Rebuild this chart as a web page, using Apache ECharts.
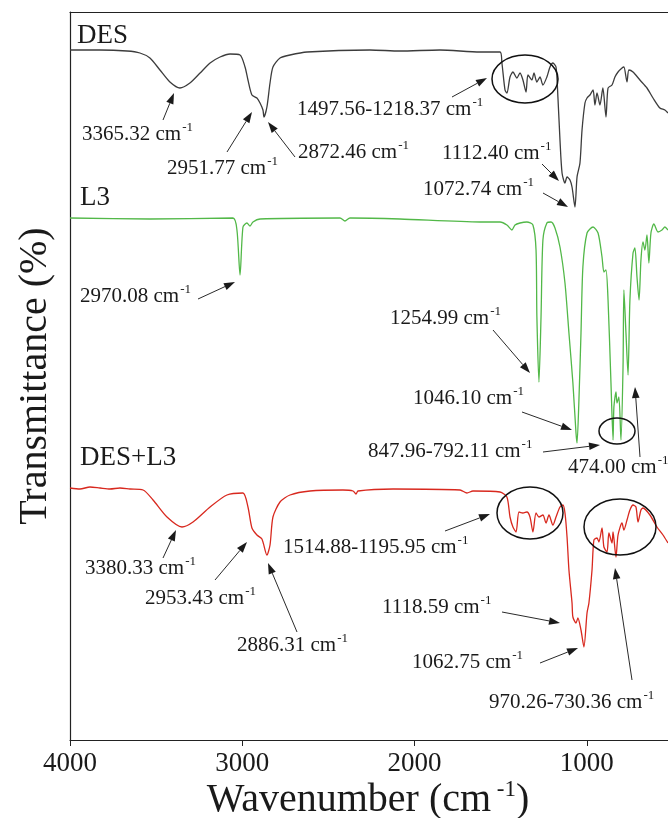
<!DOCTYPE html>
<html><head><meta charset="utf-8">
<script src="https://cdn.jsdelivr.net/npm/echarts@6/dist/echarts.min.js"></script>
<style>html,body{margin:0;padding:0;background:#fff}#c{width:668px;height:818px}</style>
</head><body><div id="c"></div>
<script>
// ---- data (wavenumber cm-1, transmittance in arbitrary offset units) ----
const xTicks = [4000, 3000, 2000, 1000];

const desWn = [4000,3826,3669,3594,3536,3478,3420,3362,3304,3245,3187,3129,3071,3013,2984,2967,2944,2915,2897,2880,2874,2857,2839,2822,2781,2723,2624,2259,2085,1853,1620,1504,1493,1475,1464,1446,1429,1406,1388,1371,1353,1342,1319,1307,1290,1272,1255,1232,1214,1197,1179,1168,1156,1144,1127,1115,1098,1086,1069,1057,1040,1028,1011,999,982,964,953,941,924,907,889,877,854,837,819,796,785,767,756,732,692,651,616,576,547,529];
const desT  = [690,690,689,687,682,670,658,652,657,667,677,683,686,685,673,660,645,642,637,630,623,633,657,673,682,685,688,690,689,690,688,688,677,650,647,663,668,662,667,660,648,665,660,667,658,663,655,663,673,677,673,643,600,567,557,563,560,553,533,563,577,610,637,642,645,650,635,647,635,652,623,652,655,663,668,672,673,658,670,668,660,652,642,632,630,627];

const l3Wn = [4000,3536,3054,3031,3013,2996,2973,2955,2938,2897,2433,2404,2375,2085,1620,1504,1464,1435,1417,1388,1348,1313,1295,1290,1278,1266,1255,1232,1208,1185,1156,1127,1104,1081,1063,1057,1046,1034,1023,999,964,935,912,901,889,877,860,848,843,831,825,814,802,790,785,773,761,750,732,721,709,697,686,674,663,651,640,628,611,587,564,547,529];
const l3T  = [522,521,522,510,465,513,517,514,518,521,522,519,522,521,518,518,515,510,515,517,518,515,490,423,358,423,500,517,518,512,493,457,407,357,307,297,340,407,473,507,513,507,483,468,470,440,357,300,333,348,337,343,300,373,450,407,365,440,487,492,463,440,480,498,490,505,477,507,516,508,510,513,510];

const mixWn = [4000,3942,3884,3826,3768,3710,3652,3576,3518,3437,3350,3286,3187,3089,2996,2967,2944,2915,2886,2857,2839,2822,2781,2723,2607,2416,2357,2340,2328,2125,1736,1696,1661,1504,1464,1446,1429,1411,1394,1371,1348,1330,1313,1295,1278,1255,1237,1220,1197,1179,1156,1139,1127,1115,1104,1086,1081,1063,1052,1034,1017,999,988,970,959,941,930,912,901,883,872,854,848,831,819,796,785,767,750,732,715,703,686,674,634,593,558,529];
const mixT  = [252,251,253,252,251,252,251,250,240,223,213,218,233,245,247,233,212,205,201,185,195,223,238,245,249,250,249,246,249,251,250,247,249,248,243,223,213,208,228,227,228,223,208,227,223,225,217,225,215,223,233,235,227,203,170,137,123,117,122,110,93,127,137,170,200,202,198,212,193,188,207,197,208,183,205,217,210,220,230,235,233,218,230,232,225,213,205,197];

const seriesNames = ['DES', 'L3', 'DES+L3'];

// ---- build ----
const zip = (a, b) => a.map((v, i) => [v, b[i]]);
const FONT = "'Liberation Serif', 'Times New Roman', serif";
const INK = '#1a1a1a';

const chart = echarts.init(document.getElementById('c'), null, {renderer: 'canvas'});

function arrow(x1, y1, x2, y2) {
  const a = Math.atan2(y2 - y1, x2 - x1), L = 11, W = 3.8;
  const bx = x2 - L * Math.cos(a), by = y2 - L * Math.sin(a);
  return [
    {type: 'line', z: 20, shape: {x1, y1, x2: bx, y2: by}, style: {stroke: '#2a2a2a', lineWidth: 1}},
    {type: 'polygon', z: 20, shape: {points: [[x2, y2], [bx + W * Math.sin(a), by - W * Math.cos(a)], [bx - W * Math.sin(a), by + W * Math.cos(a)]]}, style: {fill: '#1a1a1a'}}
  ];
}
function label(x, y, txt, sup, size) {
  size = size || 21;
  const t = sup ? '{a|' + txt + '}{s|' + sup + '}' : '{a|' + txt + '}';
  return {type: 'text', z: 25, x, y, style: {
    text: t, verticalAlign: 'middle', align: 'left', fill: INK,
    rich: {
      a: {fontFamily: FONT, fontSize: size, fill: INK, lineHeight: size + 4},
      s: {fontFamily: FONT, fontSize: Math.round(size * 0.62), fill: INK, verticalAlign: 'top', lineHeight: size + 4, padding: [0, 0, 0, 1]}
    }
  }};
}
function ell(cx, cy, rx, ry) {
  return {type: 'ellipse', z: 22, shape: {cx, cy, rx, ry}, style: {fill: 'none', stroke: '#111', lineWidth: 1.5}};
}

const graphics = [].concat(
  // series names
  label(77, 36, seriesNames[0], null, 27),
  label(80, 198, seriesNames[1], null, 27),
  label(80, 458, seriesNames[2], null, 27),
  // DES annotations
  label(82, 134, '3365.32 cm', '-1'), arrow(163, 120, 174, 93),
  label(167, 168, '2951.77 cm', '-1'), arrow(227, 152, 252, 112),
  label(298, 152, '2872.46 cm', '-1'), arrow(295, 157, 268, 122),
  label(297, 109, '1497.56-1218.37 cm', '-1'), arrow(452, 97, 487, 78), ell(525, 79, 33, 24),
  label(442, 153, '1112.40 cm', '-1'), arrow(542, 164, 559, 181),
  label(423, 189, '1072.74 cm', '-1'), arrow(543, 193, 568, 207),
  // L3 annotations
  label(80, 296, '2970.08 cm', '-1'), arrow(198, 299, 235, 282),
  label(390, 318, '1254.99 cm', '-1'), arrow(493, 330, 530, 373),
  label(413, 398, '1046.10 cm', '-1'), arrow(522, 412, 572, 430),
  label(368, 451, '847.96-792.11 cm', '-1'), arrow(543, 452, 600, 445), ell(617, 431, 18, 13),
  label(568, 467, '474.00 cm', '-1'), arrow(640, 457, 635, 387),
  // DES+L3 annotations
  label(85, 568, '3380.33 cm', '-1'), arrow(163, 558, 176, 530),
  label(145, 598, '2953.43 cm', '-1'), arrow(215, 580, 247, 542),
  label(237, 645, '2886.31 cm', '-1'), arrow(297, 632, 268, 563),
  label(283, 547, '1514.88-1195.95 cm', '-1'), arrow(445, 531, 490, 514), ell(530, 513, 33, 26),
  label(382, 607, '1118.59 cm', '-1'), arrow(502, 612, 560, 623),
  label(412, 662, '1062.75 cm', '-1'), arrow(540, 663, 578, 648),
  label(489, 702, '970.26-730.36 cm', '-1'), arrow(632, 680, 615, 568), ell(620, 527, 36, 28),
  // axis titles
  [{type: 'text', z: 25, x: 368, y: 800, style: {
      text: '{a|Wavenumber (cm}{s| -1}{a|)}', align: 'center', verticalAlign: 'middle',
      rich: {a: {fontFamily: FONT, fontSize: 40, fill: INK, lineHeight: 44},
             s: {fontFamily: FONT, fontSize: 23, fill: INK, verticalAlign: 'top', lineHeight: 44}}}},
   {type: 'text', z: 25, x: 35, y: 376, rotation: Math.PI / 2, style: {
      text: 'Transmittance (%)', align: 'center', verticalAlign: 'middle',
      fontFamily: FONT, fontSize: 40, fill: INK}}]
);

const X_MIN = 529, X_MAX = 4000;

chart.setOption({
  animation: false,
  backgroundColor: '#fff',
  grid: {left: 70, top: 12, bottom: 78, right: 0, show: false, containLabel: false},
  xAxis: [{
    type: 'value', inverse: true, min: X_MIN, max: X_MAX,
    axisLine: {show: true, onZero: false, lineStyle: {color: '#222', width: 1.2}},
    axisTick: {show: true, inside: false, length: 6, customValues: xTicks, lineStyle: {color: '#222'}},
    axisLabel: {fontFamily: FONT, fontSize: 27, color: INK, margin: 10, customValues: xTicks,
      formatter: v => String(v)},
    splitLine: {show: false}
  }, {
    type: 'value', inverse: true, min: X_MIN, max: X_MAX, position: 'top',
    axisLine: {show: true, onZero: false, lineStyle: {color: '#222', width: 1.2}},
    axisTick: {show: false}, axisLabel: {show: false}, splitLine: {show: false}
  }],
  yAxis: {
    type: 'value', min: 0, max: 728,
    axisLine: {show: true, onZero: false, lineStyle: {color: '#222', width: 1.2}},
    axisTick: {show: false}, axisLabel: {show: false}, splitLine: {show: false}
  },
  series: [
    {name: seriesNames[0], type: 'line', data: zip(desWn, desT), showSymbol: false, smooth: 0.25,
     lineStyle: {color: '#3c3c3c', width: 1.3}},
    {name: seriesNames[1], type: 'line', data: zip(l3Wn, l3T), showSymbol: false, smooth: 0.25,
     lineStyle: {color: '#52b848', width: 1.3}},
    {name: seriesNames[2], type: 'line', data: zip(mixWn, mixT), showSymbol: false, smooth: 0.25,
     lineStyle: {color: '#d8281e', width: 1.3}}
  ],
  graphic: {elements: graphics}
});
</script></body></html>
